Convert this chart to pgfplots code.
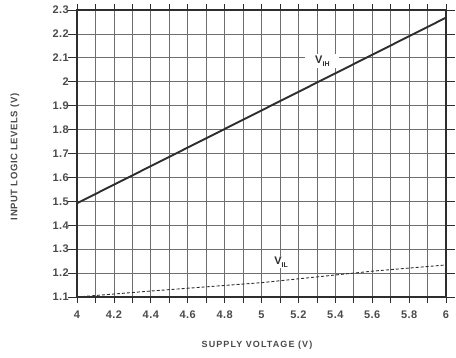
\documentclass[border=0pt]{standalone}
\usepackage{fontspec}
\setmainfont{Liberation Sans}
\usepackage{pgfplots}
\pgfplotsset{compat=1.18}
\definecolor{ink}{HTML}{2E2E2E}
\definecolor{txt}{HTML}{4A4A4A}
\definecolor{gridc}{HTML}{6E6E6E}

\begin{document}
\begin{tikzpicture}
\begin{axis}[
  scale only axis,
  width=369pt, height=287pt,
  xmin=4, xmax=6, ymin=1.1, ymax=2.3,
  xtick={4,4.2,4.4,4.6,4.8,5,5.2,5.4,5.6,5.8,6},
  minor xtick={4.1,4.3,4.5,4.7,4.9,5.1,5.3,5.5,5.7,5.9},
  ytick={1.1,1.2,1.3,1.4,1.5,1.6,1.7,1.8,1.9,2,2.1,2.2,2.3},
  grid=both,
  major grid style={gridc, line width=0.7pt},
  minor grid style={gridc, line width=0.7pt},
  axis line style={ink, line width=1.4pt},
  tick align=outside,
  xtick style={ink, line width=0.7pt, /pgfplots/major tick length=6pt, /pgfplots/minor tick length=6pt},
  ytick style={ink, line width=0.7pt, /pgfplots/major tick length=9pt},
  xticklabel style={font=\fontsize{11}{12}\selectfont\bfseries\addfontfeature{LetterSpace=4}, text=txt, yshift=-6pt},
  yticklabel style={font=\fontsize{11}{12}\selectfont\bfseries\addfontfeature{LetterSpace=4}, text=txt, xshift=-0.5pt},
  /pgf/number format/assume math mode=true,
  clip=false,
]
\coordinate (bl) at (rel axis cs:0,0);
\coordinate (tr) at (rel axis cs:1,1);

% V_IH: high-level input threshold
\addplot[ink, line width=1.9pt] coordinates {(4,1.492) (6,2.268)};
% V_IL: low-level input threshold
\addplot[ink, line width=0.9pt, dash pattern=on 3pt off 2pt] coordinates {
  (4,1.1) (4.4,1.125) (5,1.16) (5.6,1.208) (6,1.234)};

\node[fill=white, inner ysep=2pt, minimum width=34pt, text=ink,
      font=\fontsize{11}{11}\selectfont\bfseries]
  at (axis cs:5.33,2.086) {V\raisebox{-2.5pt}{\fontsize{7}{7}\selectfont IH}};
\node[fill=white, inner sep=1pt, text=ink,
      font=\fontsize{11}{11}\selectfont\bfseries]
  at (axis cs:5.106,1.246) {V\raisebox{-2.5pt}{\fontsize{7}{7}\selectfont IL}};
\end{axis}

\node[text=txt, font=\fontsize{9}{10}\selectfont\bfseries\addfontfeature{LetterSpace=12}]
  at ([shift={(180pt,-48pt)}]bl) {SUPPLY VOLTAGE (V)};
\node[text=txt, rotate=90, font=\fontsize{9.5}{10}\selectfont\bfseries\addfontfeature{LetterSpace=6}]
  at ([shift={(-62pt,140pt)}]bl) {INPUT LOGIC LEVELS (V)};

\pgfresetboundingbox
\path ([shift={(-77pt,-60pt)}]bl) rectangle ([shift={(10pt,10pt)}]tr);
\end{tikzpicture}
\end{document}
